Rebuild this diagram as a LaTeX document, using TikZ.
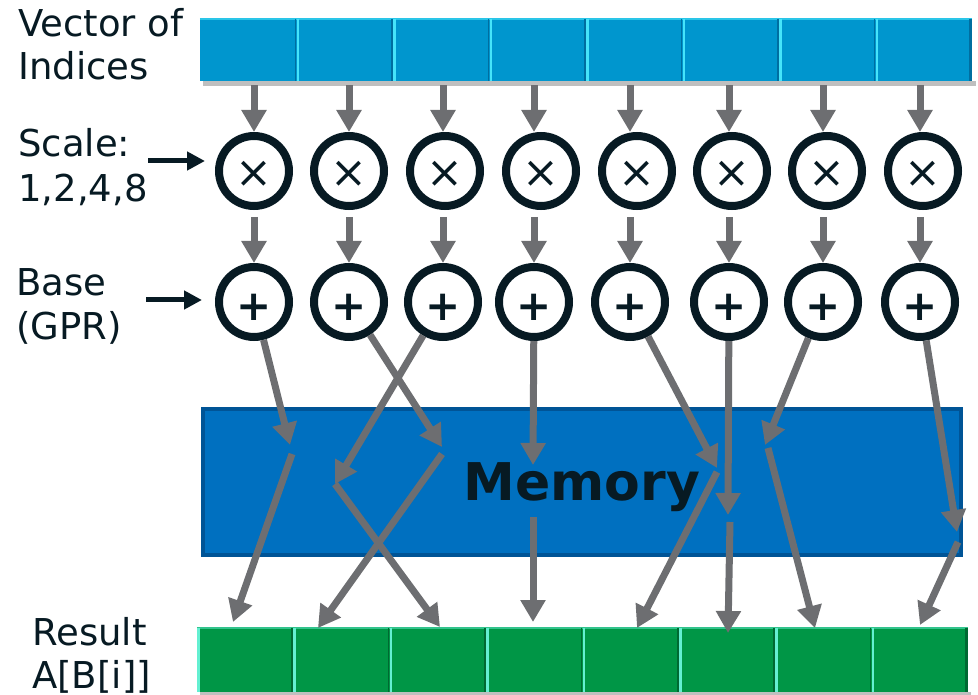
\documentclass[tikz,border=0pt]{standalone}
\usepackage{fontspec}
\setmainfont{DejaVu Sans}
\usetikzlibrary{arrows.meta}
\definecolor{ink}{RGB}{7,26,35}
\definecolor{vecblue}{RGB}{0,150,206}
\definecolor{vechi}{RGB}{70,228,250}
\definecolor{vecdark}{RGB}{0,110,160}
\definecolor{resgreen}{RGB}{0,150,70}
\definecolor{reshi}{RGB}{100,240,210}
\definecolor{resdark}{RGB}{0,105,50}
\definecolor{memblue}{RGB}{0,112,192}
\definecolor{memedge}{RGB}{0,84,150}
\definecolor{arrgray}{RGB}{109,110,113}
\begin{document}
\begin{tikzpicture}[x=1pt, y=-1pt,
    txt/.style={anchor=base west, inner sep=0, text=ink, font=\fontsize{37}{44}\selectfont},
    vcell/.style={fill=vecblue, minimum width=96.5pt, minimum height=62pt, inner sep=0},
    rcell/.style={fill=resgreen, minimum width=96.4pt, minimum height=64pt, inner sep=0},
    op/.style={circle, draw=ink, line width=8pt, minimum size=70pt, inner sep=0},
    mulsym/.style={inner sep=0, text=ink, font=\fontsize{44}{44}\selectfont},
    addsym/.style={inner sep=0, text=ink, font=\bfseries\fontsize{42}{42}\selectfont},
    arr/.style={draw=arrgray, line width=7pt, -{Triangle[width=24pt, length=22pt]}},
    inarr/.style={draw=ink, line width=5pt, -{Triangle[width=18pt, length=18pt]}}]
  \useasboundingbox (0,0) rectangle (978,695);
  % labels
  \node[txt] (vec1) at (18,37) {Vector of};
  \node[txt] (vec2) at (18,80) {Indices};
  \node[txt] (scl1) at (18,157) {Scale:};
  \node[txt] (scl2) at (18,202) {1,2,4,8};
  \node[txt] (base1) at (16,296) {Base};
  \node[txt] (base2) at (16,340) {(GPR)};
  \node[txt] (res1) at (32,645) {Result};
  \node[txt] (res2) at (32,688) {A[B[i]]};
  % vector of indices
  \fill[black, opacity=.25] (203,81) rectangle (976,86);
  \foreach \i in {1,...,8}
    \node[vcell] (v\i) at ({248.25+(\i-1)*96.5}, 50) {};
  \draw[vechi!60!vecblue, line width=1.5pt] (v1.north west) -- (v8.north east);
  \draw[vecdark, line width=3pt] ([xshift=-1.5pt]v8.north east) -- ([xshift=-1.5pt]v8.south east);
  \foreach \i in {2,...,8} {
    \draw[vecdark, line width=1.5pt] ([xshift=-1pt]v\i.north west) -- ([xshift=-1pt]v\i.south west);
    \draw[vechi, line width=2.5pt] ([xshift=1.5pt]v\i.north west) -- ([xshift=1.5pt]v\i.south west);
  }
  % memory
  \node[fill=memblue, draw=memedge, line width=4pt, minimum width=758pt, minimum height=146pt,
    text=ink, text depth=0pt, font=\bfseries\fontsize{52}{52}\selectfont] (mem) at (582,482) {Memory};
  % result
  \fill[black, opacity=.25] (200,692) rectangle (971,695);
  \foreach \i in {1,...,8}
    \node[rcell] (r\i) at ({245.2+(\i-1)*96.4}, 660) {};
  \draw[reshi!50!resgreen, line width=2pt] (r1.north west) -- (r8.north east);
  \draw[resdark, line width=3pt] ([xshift=-1.5pt]r8.north east) -- ([xshift=-1.5pt]r8.south east);
  \draw[reshi, line width=2.5pt] ([xshift=1.5pt]r1.north west) -- ([xshift=1.5pt]r1.south west);
  \foreach \i in {2,...,8} {
    \draw[resdark, line width=1.5pt] ([xshift=-1pt]r\i.north west) -- ([xshift=-1pt]r\i.south west);
    \draw[reshi, line width=2.5pt] ([xshift=1.5pt]r\i.north west) -- ([xshift=1.5pt]r\i.south west);
  }
  % scale and base units
  \foreach \i/\px/\sx in {1/254/254, 2/349/349, 3/443/445, 4/534/541,
                          5/630/637, 6/729/732, 7/823/827, 8/920/923} {
    \node[op] (s\i) at (\sx,171) {};
    \node[mulsym] (sx\i) at ([yshift=-3pt]s\i.center) {×};
    \node[op] (p\i) at (\px,302) {};
    \node[addsym] (px\i) at ([yshift=-5pt]p\i.center) {+};
    \draw[arr, shorten <=4pt] (p\i |- v\i.south) -- (p\i |- s\i.north);
    \draw[arr, shorten <=7pt] (p\i |- s\i.south) -- (p\i.north);
  }
  \coordinate (sclin) at (148,161);
  \draw[inarr, shorten >=10pt] (sclin) -- (sclin -| s1.west);
  \coordinate (basein) at (146,300);
  \draw[inarr, shorten >=13pt] (basein) -- (basein -| p1.west);
  % gather through memory
  \foreach \i/\ax/\ay/\bx/\by/\cx/\cy in {1/290/445/292/454/233/622,
      2/442/447/442/454/318/628, 3/335/484/335/484/440/627,
      4/533/465/533/517/533/622, 5/717/468/717/472/637/628,
      6/728/515/730/522/728/633, 7/765/445/768/448/815/628,
      8/957/532/958/542/920/625} {
    \coordinate (in\i) at (\ax,\ay);
    \coordinate (out\i) at (\bx,\by);
    \coordinate (dst\i) at (\cx,\cy);
    \draw[arr] (p\i) -- (in\i);
    \draw[arr] (out\i) -- (dst\i);
  }
\end{tikzpicture}
\end{document}
